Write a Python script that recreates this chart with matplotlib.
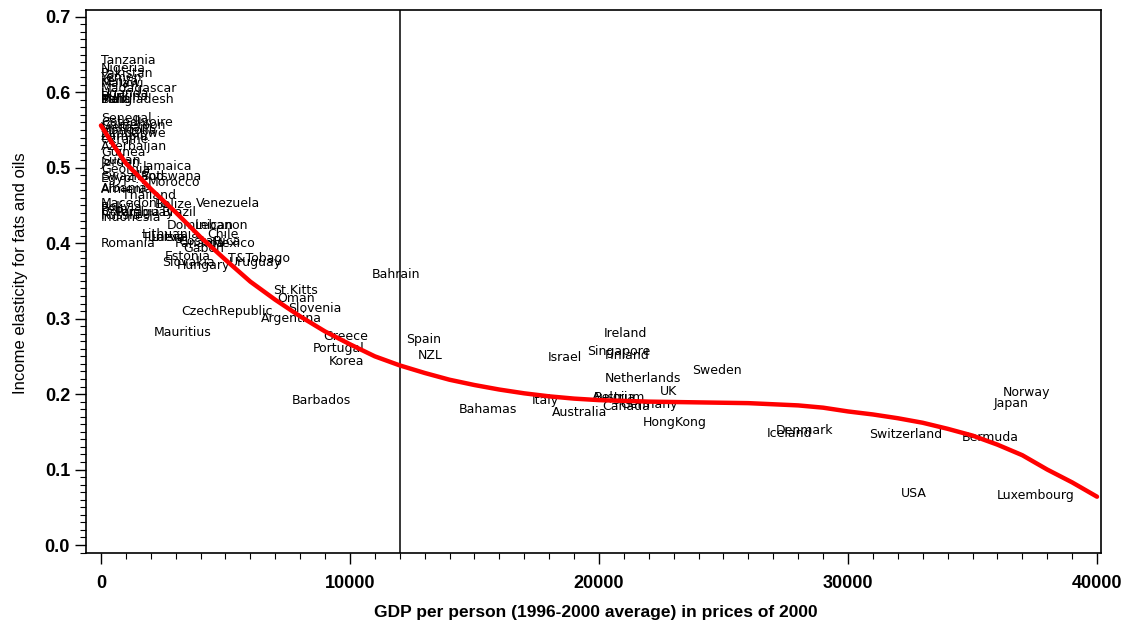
import matplotlib
matplotlib.use("Agg")
import matplotlib.pyplot as plt
from matplotlib.ticker import MultipleLocator, FormatStrFormatter

# country labels: left edge of label (GDP) and elasticity
countries = ["Tanzania", "Nigeria", "Pakistan", "Yemen", "Kenya", "Malawi", "Madagascar",
             "Uganda", "Burkina", "Bangladesh", "India", "Mali",
             "Senegal", "CotedIvoire", "Cameroon", "Vietnam", "Mongolia", "Zimbabwe",
             "Zambia", "Ukraine", "Azerbaijan", "Guinea", "Sudan", "Jordan",
             "Jamaica", "Georgia", "Swaziland", "Botswana", "Egypt", "Morocco",
             "Albania", "Armenia", "Thailand", "Macedonia", "Belize", "Venezuela",
             "Bolivia", "Peru", "Colombia", "Paraguay", "Brazil", "Russia", "Indonesia",
             "Dominican", "Lebanon", "Lithuania", "Chile", "Tunisia", "Latvia",
             "Romania", "Panama", "Mexico", "CostaRica", "Gabon",
             "Estonia", "T&Tobago", "Slovakia", "Hungary", "Uruguay",
             "Bahrain", "St.Kitts", "Oman", "Slovenia", "CzechRepublic", "Argentina",
             "Mauritius", "Greece", "Portugal", "Korea", "Barbados",
             "Spain", "NZL", "Bahamas", "Italy", "Israel", "Australia",
             "Ireland", "Singapore", "Finland", "Netherlands", "Sweden", "UK",
             "Belgium", "Austria", "Canada", "Germany", "HongKong",
             "Iceland", "Denmark", "Switzerland", "Bermuda", "Norway", "Japan",
             "USA", "Luxembourg"]
label_gdp = [0, 0, 0, 0, 0, 0, 0,
             0, 0, 0, 0, 0,
             0, 0, 0, 0, 0, 0,
             0, 0, 0, 0, 0, 0,
             1690, 0, 0, 1600, 0, 1890,
             0, 0, 840, 0, 2170, 3815,
             0, 0, 0, 600, 2450, 0, 0,
             2650, 3775, 1650, 4250, 1650, 2000,
             0, 2950, 4460, 3100, 3300,
             2550, 5100, 2450, 3050, 5140,
             10880, 6900, 7070, 7510, 3210, 6430,
             2130, 8920, 8510, 9160, 7670,
             12250, 12730, 14380, 17310, 17950, 18110,
             20200, 19520, 20240, 20240, 23730, 22450,
             19800, 19700, 20120, 20840, 21770,
             26750, 27110, 30840, 34580, 36220, 35860,
             32130, 35980]
label_val = [0.642, 0.631, 0.625, 0.619, 0.614, 0.611, 0.605,
             0.598, 0.594, 0.591, 0.591, 0.590,
             0.565, 0.560, 0.556, 0.553, 0.549, 0.545,
             0.542, 0.538, 0.528, 0.520, 0.510, 0.507,
             0.501, 0.497, 0.488, 0.488, 0.486, 0.481,
             0.473, 0.471, 0.463, 0.452, 0.451, 0.452,
             0.447, 0.444, 0.440, 0.441, 0.440, 0.437, 0.434,
             0.423, 0.423, 0.412, 0.412, 0.408, 0.407,
             0.399, 0.400, 0.399, 0.402, 0.393,
             0.382, 0.380, 0.375, 0.371, 0.374,
             0.359, 0.337, 0.327, 0.314, 0.309, 0.300,
             0.282, 0.276, 0.261, 0.243, 0.192,
             0.272, 0.251, 0.179, 0.192, 0.248, 0.176,
             0.280, 0.257, 0.251, 0.220, 0.231, 0.203,
             0.196, 0.195, 0.183, 0.186, 0.163,
             0.148, 0.152, 0.146, 0.142, 0.202, 0.187,
             0.068, 0.066]

# fitted curve
fit_gdp = [0, 500, 1000, 2000, 3000, 4000, 5000, 6000, 7000, 8000, 9000, 10000,
           11000, 12000, 13000, 14000, 15000, 16000, 17000, 18000, 19000, 20000,
           22000, 24000, 26000, 28000, 29000, 30000, 31000, 32000, 33000, 34000,
           35000, 36000, 37000, 38000, 39000, 40000]
fit_val = [0.556, 0.530, 0.506, 0.472, 0.441, 0.408, 0.378, 0.349, 0.325, 0.303,
           0.283, 0.266, 0.250, 0.238, 0.228, 0.219, 0.212, 0.206, 0.201, 0.197,
           0.194, 0.192, 0.190, 0.189, 0.188, 0.185, 0.182, 0.177, 0.173, 0.168,
           0.162, 0.154, 0.145, 0.133, 0.119, 0.100, 0.083, 0.064]

cutoff = 12000

fig = plt.figure(figsize=(11.29, 6.26), dpi=100)
ax = fig.add_axes([86 / 1129, (626 - 553) / 626, (1101 - 86) / 1129, (553 - 10) / 626])

for name, g, v in zip(countries, label_gdp, label_val):
    ax.text(g, v, name, ha='left', va='center', fontsize=9, color='black',
            family='DejaVu Sans')

ax.plot(fit_gdp, fit_val, color='red', lw=3.2, solid_capstyle='round', zorder=3)
ax.axvline(cutoff, color='black', lw=1.1)

ax.set_xlim(-600, 40160)
ax.set_ylim(-0.0106, 0.709)

ax.xaxis.set_major_locator(MultipleLocator(10000))
ax.xaxis.set_minor_locator(MultipleLocator(1000))
ax.yaxis.set_major_locator(MultipleLocator(0.1))
ax.yaxis.set_minor_locator(MultipleLocator(0.01))
ax.yaxis.set_major_formatter(FormatStrFormatter('%.1f'))
ax.tick_params(which='major', length=8, width=1, direction='out')
ax.tick_params(which='minor', length=4, width=0.8, direction='out')
ax.tick_params(axis='x', labelsize=13, pad=8)
ax.tick_params(axis='y', labelsize=13)
for lab in ax.get_xticklabels() + ax.get_yticklabels():
    lab.set_fontweight('bold')
    lab.set_family('Liberation Sans')

for s in ax.spines.values():
    s.set_linewidth(1.2)

ax.set_xlabel("GDP per person (1996-2000 average) in prices of 2000", fontsize=12.5,
              fontweight='bold', family='Liberation Sans', va='center')
ax.xaxis.set_label_coords(0.502, -0.109)
ax.set_ylabel("Income elasticity for fats and oils", fontsize=12,
              family=['Liberation Sans Narrow', 'Liberation Sans'], va='center')
ax.yaxis.set_label_coords(-0.065, 0.515)

fig.savefig("out.png", dpi=100)
